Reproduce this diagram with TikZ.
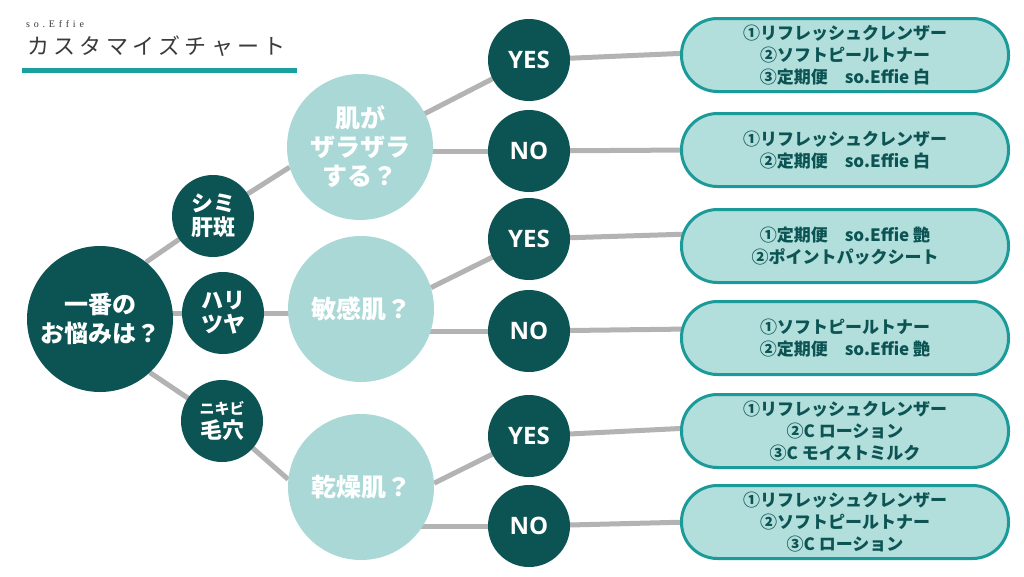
\documentclass[tikz,border=0pt]{standalone}
\usepackage{fontspec}
\usetikzlibrary{backgrounds}
\newfontfamily\jp{Noto Sans CJK JP}
\newfontfamily\jptitle{Noto Sans CJK JP}[LetterSpace=20]
\newfontfamily\serifsp{Liberation Serif}[LetterSpace=38]
\newfontfamily\yn{Open Sans}
\definecolor{dark}{HTML}{0B5453}
\definecolor{light}{HTML}{A9D8D6}
\definecolor{boxfill}{HTML}{B2DEDC}
\definecolor{boxline}{HTML}{1A9A98}
\definecolor{linegray}{HTML}{B3B3B3}
\definecolor{bar}{HTML}{1AA19D}
\definecolor{titlegray}{HTML}{3A3A3A}
\tikzset{
  dk/.style={circle, fill=dark, text=white, inner sep=0pt, minimum size=82pt, align=center},
  mainc/.style={dk, minimum size=146pt, font=\jp\bfseries\fontsize{24}{29}\selectfont},
  concern/.style={dk, font=\jp\bfseries\fontsize{22}{24}\selectfont},
  lt/.style={circle, fill=light, text=white, inner sep=0pt, minimum size=146pt, align=center, font=\jp\bfseries\fontsize{25}{29}\selectfont},
  yn/.style={dk, font=\yn\bfseries\fontsize{24}{28}\selectfont},
  res/.style={rectangle, rounded corners=36pt, draw=boxline, line width=3pt, fill=boxfill, minimum width=327pt, minimum height=73pt, inner sep=0pt, align=center, text=dark, font=\jp\bfseries\fontsize{17}{22}\selectfont},
  link/.style={draw=linegray, line width=5pt}
}
\begin{document}
\begin{tikzpicture}[x=1pt,y=-1pt]
\useasboundingbox (0,0) rectangle (1024,576);
% title
\node[anchor=base west, inner sep=0pt, text=titlegray, font=\serifsp\fontsize{10}{12}\selectfont] (brand) at (26,27) {so.Effie};
\node[anchor=base west, inner sep=0pt, text=titlegray, font=\jptitle\fontsize{22}{26}\selectfont] (title) at (27,54) {カスタマイズチャート};
\fill[bar] (22,68) rectangle (297,73);
% nodes
\node[mainc] (main) at (100,319) {一番の\\お悩みは？};
\node[concern] (c1) at (213,216) {シミ\\肝斑};
\node[concern] (c2) at (223,313) {ハリ\\ツヤ};
\node[concern] (c3) at (222,421) {{\fontsize{15}{18}\selectfont ニキビ}\\毛穴};
\node[lt] (q1) at (360,147) {肌が\\ザラザラ\\する？};
\node[lt] (q2) at (361,309) {敏感肌？};
\node[lt] (q3) at (361,487) {乾燥肌？};
\node[yn] (y1) at (529,60) {YES};
\node[yn] (n1) at (529,151) {NO};
\node[yn] (y2) at (529,239) {YES};
\node[yn] (n2) at (529,331) {NO};
\node[yn] (y3) at (529,436) {YES};
\node[yn] (n3) at (529,526) {NO};
\node[res] (b1) at (845,55) {①リフレッシュクレンザー\\②ソフトピールトナー\\③定期便　so.Effie 白};
\node[res] (b2) at (845,150) {①リフレッシュクレンザー\\②定期便　so.Effie 白};
\node[res] (b3) at (845,246) {①定期便　so.Effie 艶\\②ポイントパックシート};
\node[res] (b4) at (845,338) {①ソフトピールトナー\\②定期便　so.Effie 艶};
\node[res] (b5) at (845,431) {①リフレッシュクレンザー\\②C ローション\\③C モイストミルク};
\node[res] (b6) at (845,522) {①リフレッシュクレンザー\\②ソフトピールトナー\\③C ローション};
% connectors
\begin{scope}[on background layer]
\fill[white] (0,0) rectangle (1024,576);
\draw[link] (main.51) -- (c1.center);
\draw[link] (c1.center) -- (q1.196);
\draw[link] (main |- c2) -- (q2 |- c2);
\draw[link] (main.-47) -- (c3.center);
\draw[link] (c3.center) -- (q3.174);
\draw[link] (q1.center) -- (y1.center);
\draw[link] (q1 |- n1) -- (n1.center);
\draw[link] (q2.17) -- (y2.center);
\draw[link] (q2 |- n2) -- (n2.center);
\draw[link] (q3.3) -- (y3.center);
\draw[link] (q3 |- n3) -- (n3.center);
\draw[link] (y1.center) -- ([yshift=2pt,xshift=10pt]b1.west);
\draw[link] (n1.center) -- ([xshift=10pt]b2.west);
\draw[link] (y2.center) -- ([yshift=12pt,xshift=10pt]b3.west);
\draw[link] (n2.center) -- ([yshift=9pt,xshift=10pt]b4.west);
\draw[link] (y3.center) -- ([yshift=3pt,xshift=10pt]b5.west);
\draw[link] (n3.center) -- ([xshift=10pt]b6.west);
\end{scope}
\end{tikzpicture}
\end{document}
